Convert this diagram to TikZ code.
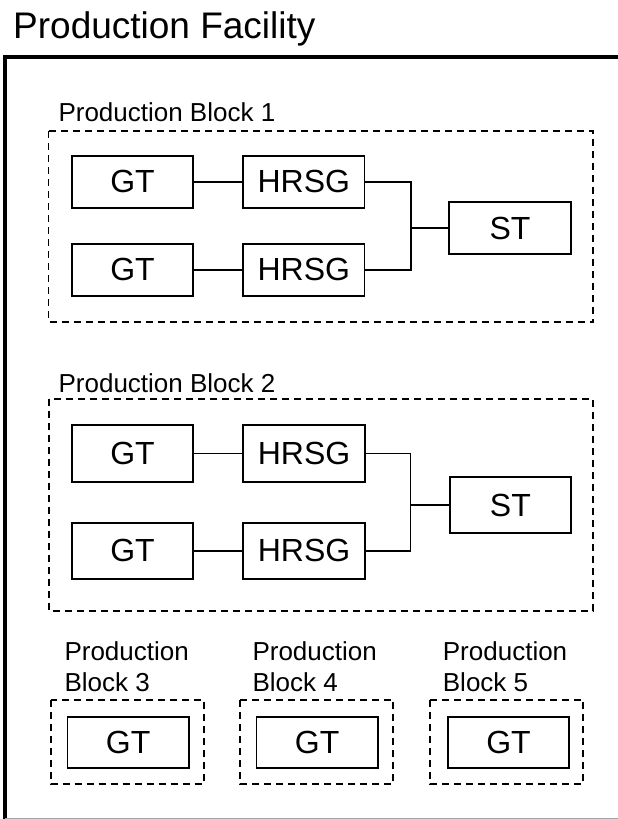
\documentclass[tikz,border=0pt]{standalone}
\usepackage{fontspec}
\setmainfont{Liberation Sans}
\begin{document}
\begin{tikzpicture}[x=1pt,y=-1pt,
  unit/.style={draw, line width=1.8pt, inner sep=0pt, minimum width=121.5pt, font=\fontsize{32}{32}\selectfont},
  blockframe/.style={draw, line width=1.8pt, dash pattern=on 7pt off 5pt},
  lbl/.style={anchor=base west, inner sep=0pt, font=\fontsize{26}{31}\selectfont},
  link/.style={line width=1.8pt}]
\useasboundingbox (0,0) rectangle (618,819);
% facility frame
\node[anchor=base west, inner sep=0pt, font=\fontsize{37}{37}\selectfont] (title) at (13,38) {Production Facility};
\draw[line width=4pt] (5,819) -- (5,57) -- (618,57);
\draw[line width=1.5pt, gray!70] (5,818.5) -- (618,818.5);

% Block 1
\node[lbl] (l1) at (58.3,121.7) {Production Block 1};
\draw[blockframe] (48.5,131) rectangle (593,322);
\node[unit, minimum height=52pt] (gt11) at (132.5,181.7) {GT};
\node[unit, minimum height=52pt] (gt12) at (132.5,269.8) {GT};
\node[unit, minimum height=52pt] (hr11) at (303.8,181.7) {HRSG};
\node[unit, minimum height=52pt] (hr12) at (303.8,269.8) {HRSG};
\node[unit, minimum height=52pt] (st1) at (510,228.2) {ST};
\coordinate (j1) at (411,228.2);
\draw[link] (gt11) -- (hr11);
\draw[link] (gt12) -- (hr12);
\draw[link] (hr11.east) -| (j1) -- (st1.west);
\draw[link] (hr12.east) -| (j1);

% Block 2
\node[lbl] (l2) at (58.4,392.6) {Production Block 2};
\draw[blockframe] (49,399) rectangle (593,611);
\node[unit, minimum height=56.4pt] (gt21) at (132.5,453.4) {GT};
\node[unit, minimum height=56.4pt] (gt22) at (132.5,550.8) {GT};
\node[unit, minimum height=56.4pt] (hr21) at (304.1,453.4) {HRSG};
\node[unit, minimum height=56.4pt] (hr22) at (304.1,550.8) {HRSG};
\node[unit, minimum height=56.4pt] (st2) at (510.4,505) {ST};
\coordinate (j2) at (410.5,505);
\draw[link] (gt21) -- (hr21);
\draw[link] (gt22) -- (hr22);
\draw[link] (hr21.east) -| (j2) -- (st2.west);
\draw[link] (hr22.east) -| (j2);

% Blocks 3-5
\node[lbl, align=left] (l3) at (64.3,691) {Production\\Block 3};
\draw[blockframe] (50.7,700) rectangle (204,784);
\node[unit, minimum height=51.6pt] (gt3) at (128.2,742.5) {GT};

\node[lbl, align=left] (l4) at (252.3,691) {Production\\Block 4};
\draw[blockframe] (240,700) rectangle (393.3,784);
\node[unit, minimum height=51.6pt] (gt4) at (317.2,742.5) {GT};

\node[lbl, align=left] (l5) at (442.7,691) {Production\\Block 5};
\draw[blockframe] (430,700) rectangle (583.3,784);
\node[unit, minimum height=51.6pt] (gt5) at (508.5,742.5) {GT};
\end{tikzpicture}
\end{document}
